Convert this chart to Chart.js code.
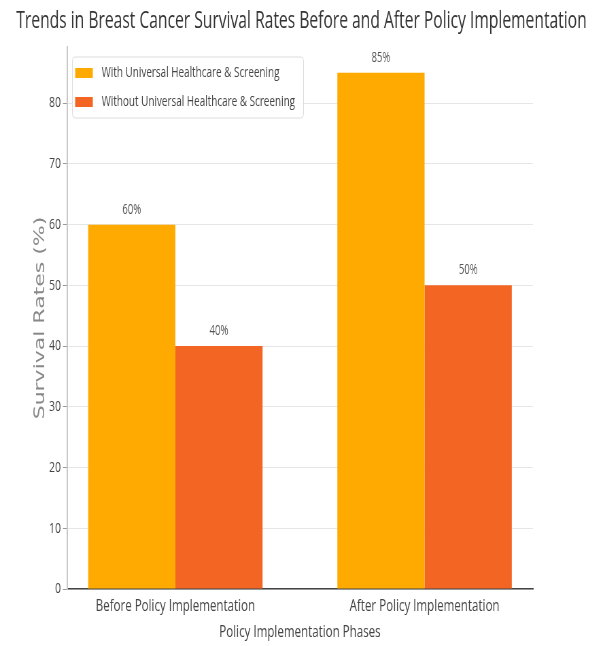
<!DOCTYPE html>
<html>
<head>
<meta charset="utf-8">
<script src="https://cdn.jsdelivr.net/npm/chart.js@4/dist/chart.umd.min.js"></script>
<style>
    body { margin: 0; background: #fff; }
</style>
</head>
<body>
<!-- drawn wide, then squeezed to 603px like the reference -->
<canvas id="chart" width="887" height="646" style="width:603px;height:646px"></canvas>
<script>
// data
const categories = ["Before Policy Implementation", "After Policy Implementation"];
const withScreening = [60, 85];
const withoutScreening = [40, 50];
const seriesNames = ["With Universal Healthcare & Screening", "Without Universal Healthcare & Screening"];
const yMax = 89.25;
const yStep = 10;

const colors = ["#FFAA00", "#F26522"];
const font = "'Open Sans'";

// legend drawn inside the plot, top left
const innerLegend = {
    id: "innerLegend",
    afterDraw(chart) {
        const ctx = chart.ctx;
        const a = chart.chartArea;
        const x = a.left + 8, y = 57, w = 340, h = 61;
        ctx.save();
        ctx.fillStyle = "rgba(255,255,255,0.85)";
        ctx.strokeStyle = "#dddddd";
        ctx.lineWidth = 1;
        ctx.beginPath();
        ctx.roundRect(x, y, w, h, 4);
        ctx.fill();
        ctx.stroke();
        ctx.font = "14.6px " + font;
        ctx.textBaseline = "middle";
        chart.data.datasets.forEach((ds, i) => {
            const cy = y + 16 + i * 29;
            ctx.fillStyle = ds.backgroundColor;
            ctx.fillRect(x + 4, cy - 5, 26, 10);
            ctx.fillStyle = "#444";
            ctx.fillText(ds.label, x + 43, cy);
        });
        ctx.restore();
    }
};

// percentage labels above bars
const barLabels = {
    id: "barLabels",
    afterDatasetsDraw(chart) {
        const ctx = chart.ctx;
        ctx.save();
        ctx.font = "14px " + font;
        ctx.fillStyle = "#555";
        ctx.textAlign = "center";
        ctx.textBaseline = "middle";
        chart.data.datasets.forEach((ds, i) => {
            chart.getDatasetMeta(i).data.forEach((bar, j) => {
                ctx.fillText(ds.data[j].y + "%", bar.x, bar.y - 15);
            });
        });
        ctx.restore();
    }
};

new Chart(document.getElementById("chart"), {
    type: "bar",
    data: {
        datasets: [
            {
                label: seriesNames[0],
                data: categories.map((c, i) => ({ x: i, y: withScreening[i] })),
                backgroundColor: colors[0]
            },
            {
                label: seriesNames[1],
                data: categories.map((c, i) => ({ x: i, y: withoutScreening[i] })),
                backgroundColor: colors[1]
            }
        ]
    },
    options: {
        responsive: false,
        devicePixelRatio: 1,
        animation: false,
        categoryPercentage: 0.7,
        barPercentage: 1,
        layout: { padding: 0 },
        plugins: {
            legend: { display: false },
            tooltip: { enabled: false },
            title: {
                display: true,
                text: "Trends in Breast Cancer Survival Rates Before and After Policy Implementation",
                font: { family: font, size: 23, weight: "normal" },
                color: "#333",
                padding: { top: 8, bottom: 11.4 }
            }
        },
        scales: {
            x: {
                type: "linear",
                min: -0.435,
                max: 1.435,
                offset: false,
                grid: { display: false, drawTicks: true, tickLength: 4 },
                border: { display: true, color: "#444", width: 1.5 },
                ticks: {
                    stepSize: 1,
                    includeBounds: false,
                    autoSkip: false,
                    maxRotation: 0,
                    padding: 3,
                    color: "#444",
                    font: { family: font, size: 17 },
                    callback: v => Number.isInteger(v) ? categories[v] : ""
                },
                title: {
                    display: true,
                    text: "Policy Implementation Phases",
                    color: "#444",
                    font: { family: font, size: 17 },
                    padding: { top: 0, bottom: 3.8 }
                },
                afterFit: s => { s.height = 57; }
            },
            y: {
                min: 0,
                max: yMax,
                grid: { color: "#e6e6e6", tickColor: "#999", tickLength: 6 },
                border: { display: true, color: "#c8c8c8", width: 2 },
                ticks: {
                    stepSize: yStep,
                    includeBounds: false,
                    padding: 3,
                    color: "#444",
                    font: { family: font, size: 15 }
                },
                title: {
                    display: true,
                    text: "Survival Rates (%)",
                    color: "#888",
                    font: { family: "'DejaVu Sans'", size: 22 },
                    padding: { top: 46, bottom: 0 }
                },
                afterFit: s => { s.width = 98.5; }
            },
            // empty right-hand box so the plot ends where the reference's does
            yRight: {
                position: "right",
                min: 0,
                max: yMax,
                grid: { display: false },
                border: { display: false },
                ticks: { display: false },
                afterFit: s => { s.width = 103; }
            }
        }
    },
    plugins: [innerLegend, barLabels]
});
</script>
</body>
</html>
